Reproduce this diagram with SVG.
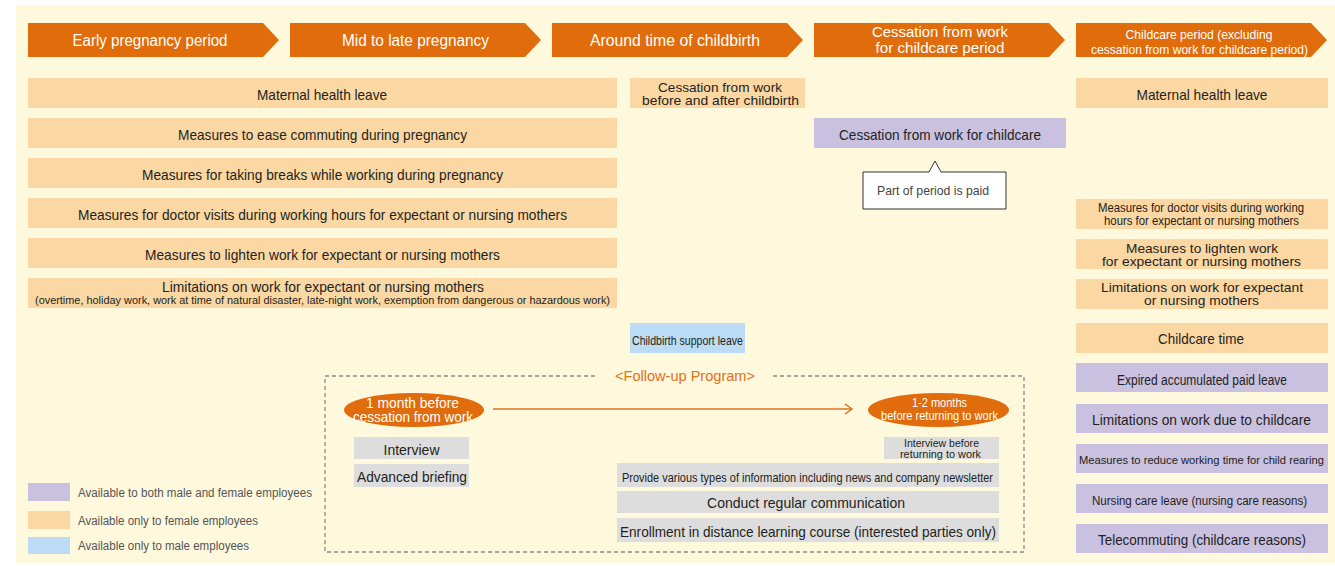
<svg xmlns="http://www.w3.org/2000/svg" width="1335" height="566" viewBox="0 0 1335 566">
<style>
text{font-family:"Liberation Sans",Arial,sans-serif;fill:#231f20;text-anchor:middle}
.hd{fill:#e06c0b}
.ht{fill:#ffffff;font-size:16px}
.pe{fill:#fbd7a3}
.pu{fill:#c9c1df}
.bl{fill:#bcdcf5}
.gr{fill:#dddddd}
.t15{font-size:15px}
.t14{font-size:14px}
.t13{font-size:13px}
.wt{fill:#ffffff}
.lg{font-size:12.5px;fill:#555555;text-anchor:start}
.dash{fill:none;stroke:#8a8a8a;stroke-width:1.3;stroke-dasharray:4 3}
</style>
<rect x="16" y="5" width="1319" height="558" fill="#fef8dd"/>

<g id="hdr1"><polygon class="hd" points="28,23 263,23 279,40 263,57 28,57"/><text class="ht" x="150" y="46" textLength="155" lengthAdjust="spacingAndGlyphs">Early pregnancy period</text></g>
<g id="hdr2"><polygon class="hd" points="290,23 525,23 541,40 525,57 290,57"/><text class="ht" x="415.5" y="46" textLength="147" lengthAdjust="spacingAndGlyphs">Mid to late pregnancy</text></g>
<g id="hdr3"><polygon class="hd" points="552,23 787,23 803,40 787,57 552,57"/><text class="ht" x="675" y="46" textLength="170" lengthAdjust="spacingAndGlyphs">Around time of childbirth</text></g>
<g id="hdr4"><polygon class="hd" points="814,23 1049,23 1065,40 1049,57 814,57"/><text class="ht" style="font-size:15.5px"><tspan x="940" y="37" textLength="136" lengthAdjust="spacingAndGlyphs">Cessation from work</tspan><tspan x="940" y="53" textLength="129" lengthAdjust="spacingAndGlyphs">for childcare period</tspan></text></g>
<g id="hdr5"><polygon class="hd" points="1076,23 1311,23 1327,40 1311,57 1076,57"/><text class="ht" style="font-size:13.5px"><tspan x="1199" y="39" textLength="147" lengthAdjust="spacingAndGlyphs">Childcare period (excluding</tspan><tspan x="1199.5" y="54" textLength="217" lengthAdjust="spacingAndGlyphs">cessation from work for childcare period)</tspan></text></g>

<g id="l1"><rect class="pe" x="28" y="78" width="589" height="30"/><text class="t15" x="322" y="100" textLength="130" lengthAdjust="spacingAndGlyphs">Maternal health leave</text></g>
<g id="l2"><rect class="pe" x="28" y="118" width="589" height="30"/><text class="t15" x="322.5" y="140" textLength="289" lengthAdjust="spacingAndGlyphs">Measures to ease commuting during pregnancy</text></g>
<g id="l3"><rect class="pe" x="28" y="158" width="589" height="30"/><text class="t15" x="322.5" y="180" textLength="361" lengthAdjust="spacingAndGlyphs">Measures for taking breaks while working during pregnancy</text></g>
<g id="l4"><rect class="pe" x="28" y="198" width="589" height="30"/><text class="t15" x="322.5" y="220" textLength="489" lengthAdjust="spacingAndGlyphs">Measures for doctor visits during working hours for expectant or nursing mothers</text></g>
<g id="l5"><rect class="pe" x="28" y="238" width="589" height="30"/><text class="t15" x="322.5" y="260" textLength="355" lengthAdjust="spacingAndGlyphs">Measures to lighten work for expectant or nursing mothers</text></g>
<g id="l6"><rect class="pe" x="28" y="278" width="589" height="30"/><text class="t15"><tspan x="323" y="292" textLength="322" lengthAdjust="spacingAndGlyphs">Limitations on work for expectant or nursing mothers</tspan><tspan style="font-size:11.5px" x="322.5" y="304" textLength="575" lengthAdjust="spacingAndGlyphs">(overtime, holiday work, work at time of natural disaster, late-night work, exemption from dangerous or hazardous work)</tspan></text></g>

<g id="m1"><rect class="pe" x="630" y="78" width="175" height="30"/><text class="t13"><tspan x="720" y="92" textLength="124" lengthAdjust="spacingAndGlyphs">Cessation from work</tspan><tspan x="720.5" y="105" textLength="157" lengthAdjust="spacingAndGlyphs">before and after childbirth</tspan></text></g>
<g id="m2"><rect class="bl" x="630" y="323" width="115" height="30"/><text style="font-size:13.5px" x="687.5" y="345" textLength="111" lengthAdjust="spacingAndGlyphs">Childbirth support leave</text></g>

<g id="c1"><rect class="pu" x="814" y="118" width="252" height="30"/><text class="t15" x="940" y="140" textLength="202" lengthAdjust="spacingAndGlyphs">Cessation from work for childcare</text></g>
<g id="callout"><path d="M863,172 L929,172 L935,161 L941,172 L1006,172 L1006,209 L863,209 Z" fill="#ffffff" stroke="#333333" stroke-width="1"/><text class="t13" style="fill:#444444" x="933" y="195" textLength="112" lengthAdjust="spacingAndGlyphs">Part of period is paid</text></g>

<g id="r1"><rect class="pe" x="1076" y="78" width="252" height="30"/><text class="t15" x="1202" y="100" textLength="131" lengthAdjust="spacingAndGlyphs">Maternal health leave</text></g>
<g id="r2"><rect class="pe" x="1076" y="199" width="252" height="30"/><text class="t13"><tspan x="1201" y="212" textLength="206" lengthAdjust="spacingAndGlyphs">Measures for doctor visits during working</tspan><tspan x="1201.5" y="225" textLength="195" lengthAdjust="spacingAndGlyphs">hours for expectant or nursing mothers</tspan></text></g>
<g id="r3"><rect class="pe" x="1076" y="239" width="252" height="30"/><text style="font-size:13.5px"><tspan x="1202" y="252.5" textLength="152" lengthAdjust="spacingAndGlyphs">Measures to lighten work</tspan><tspan x="1201.5" y="265.5" textLength="199" lengthAdjust="spacingAndGlyphs">for expectant or nursing mothers</tspan></text></g>
<g id="r4"><rect class="pe" x="1076" y="279" width="252" height="30"/><text style="font-size:13.5px"><tspan x="1202" y="292" textLength="202" lengthAdjust="spacingAndGlyphs">Limitations on work for expectant</tspan><tspan x="1201.5" y="305" textLength="115" lengthAdjust="spacingAndGlyphs">or nursing mothers</tspan></text></g>
<g id="r5"><rect class="pe" x="1076" y="323" width="252" height="30"/><text class="t15" x="1201" y="344" textLength="86" lengthAdjust="spacingAndGlyphs">Childcare time</text></g>
<g id="r6"><rect class="pu" x="1076" y="363" width="252" height="29"/><text class="t14" x="1202" y="384.5" textLength="170" lengthAdjust="spacingAndGlyphs">Expired accumulated paid leave</text></g>
<g id="r7"><rect class="pu" x="1076" y="404" width="252" height="29"/><text class="t15" x="1201.5" y="425" textLength="219" lengthAdjust="spacingAndGlyphs">Limitations on work due to childcare</text></g>
<g id="r8"><rect class="pu" x="1076" y="444" width="252" height="29"/><text style="font-size:11.2px" x="1201.5" y="464" textLength="245" lengthAdjust="spacingAndGlyphs">Measures to reduce working time for child rearing</text></g>
<g id="r9"><rect class="pu" x="1076" y="484" width="252" height="29"/><text style="font-size:12.5px" x="1199.5" y="504.5" textLength="215" lengthAdjust="spacingAndGlyphs">Nursing care leave (nursing care reasons)</text></g>
<g id="r10"><rect class="pu" x="1076" y="524" width="252" height="29"/><text class="t15" x="1202" y="545" textLength="208" lengthAdjust="spacingAndGlyphs">Telecommuting (childcare reasons)</text></g>

<g id="followup">
<path class="dash" d="M595,376 L325,376 L325,552 L1024,552 L1024,376 L773,376"/>
<text style="font-size:15.5px;fill:#e2701c" x="685" y="381" textLength="140" lengthAdjust="spacingAndGlyphs">&lt;Follow-up Program&gt;</text>
</g>
<g id="e1"><ellipse cx="414" cy="410" rx="70" ry="17" fill="#e06c0b"/><text class="t14 wt"><tspan x="412.5" y="408" textLength="93" lengthAdjust="spacingAndGlyphs">1 month before</tspan><tspan x="413" y="422" textLength="120" lengthAdjust="spacingAndGlyphs">cessation from work</tspan></text></g>
<g id="e2"><ellipse cx="938.5" cy="410" rx="70.5" ry="17" fill="#e06c0b"/><text class="wt" style="font-size:13.5px"><tspan x="939.5" y="407" textLength="55" lengthAdjust="spacingAndGlyphs">1-2 months</tspan><tspan x="939.5" y="420" textLength="117" lengthAdjust="spacingAndGlyphs">before returning to work</tspan></text></g>
<g id="f1"><rect class="gr" x="354" y="437" width="115" height="22"/><text class="t15" x="411.5" y="455" textLength="56" lengthAdjust="spacingAndGlyphs">Interview</text></g>
<g id="f2"><rect class="gr" x="354" y="464" width="115" height="23"/><text class="t15" x="412" y="482" textLength="110" lengthAdjust="spacingAndGlyphs">Advanced briefing</text></g>
<g id="f3"><rect class="gr" x="884" y="437" width="115" height="22"/><text style="font-size:11px"><tspan x="941.5" y="447" textLength="75" lengthAdjust="spacingAndGlyphs">Interview before</tspan><tspan x="940.5" y="458" textLength="81" lengthAdjust="spacingAndGlyphs">returning to work</tspan></text></g>
<g id="f4"><rect class="gr" x="617" y="463" width="382" height="24"/><text class="t13" x="807.5" y="482" textLength="371" lengthAdjust="spacingAndGlyphs">Provide various types of information including news and company newsletter</text></g>
<g id="f5"><rect class="gr" x="617" y="491" width="382" height="22"/><text class="t15" x="806" y="508" textLength="198" lengthAdjust="spacingAndGlyphs">Conduct regular communication</text></g>
<g id="f6"><rect class="gr" x="617" y="518" width="382" height="24"/><text class="t15" x="808" y="537" textLength="376" lengthAdjust="spacingAndGlyphs">Enrollment in distance learning course (interested parties only)</text></g>

<g id="connectors">
<line x1="493" y1="409" x2="852" y2="409" stroke="#e2701c" stroke-width="1.5"/>
<polyline points="845,404 852,409 845,414" fill="none" stroke="#e2701c" stroke-width="1.5"/>
</g>

<g id="legend">
<rect class="pu" x="28" y="483" width="42" height="18"/>
<text class="lg" x="78" y="497" textLength="234" lengthAdjust="spacingAndGlyphs">Available to both male and female employees</text>
<rect class="pe" x="28" y="511" width="42" height="18"/>
<text class="lg" x="78" y="525" textLength="180" lengthAdjust="spacingAndGlyphs">Available only to female employees</text>
<rect class="bl" x="28" y="537" width="42" height="17"/>
<text class="lg" x="78" y="550" textLength="171" lengthAdjust="spacingAndGlyphs">Available only to male employees</text>
</g>
</svg>
